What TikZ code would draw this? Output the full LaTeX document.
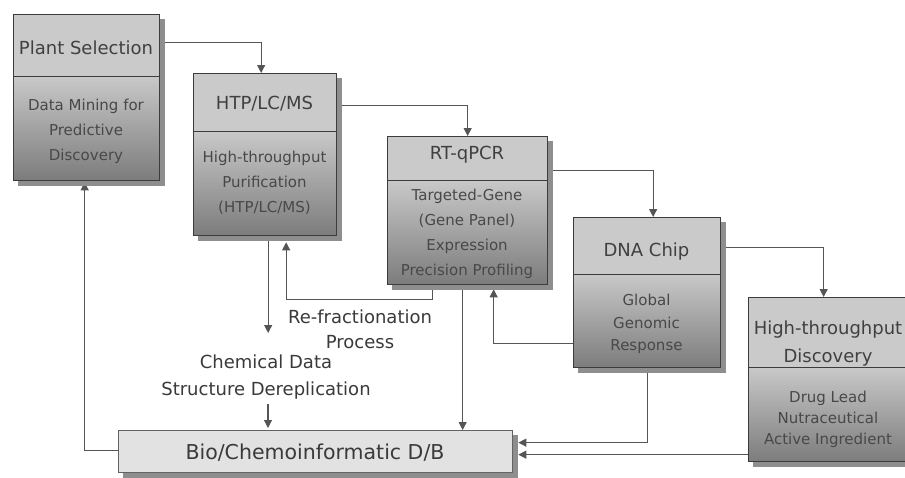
\documentclass[tikz,border=0pt]{standalone}
\usepackage{fontspec}
\setmainfont{DejaVu Sans}
\usetikzlibrary{arrows.meta}
\pgfdeclarelayer{bglayer}
\pgfdeclarelayer{connlayer}
\pgfdeclarelayer{shadowlayer}
\pgfsetlayers{bglayer,connlayer,shadowlayer,main}
\definecolor{bordc}{HTML}{3C3C3C}
\definecolor{titlec}{HTML}{CACACA}
\definecolor{bodytop}{HTML}{C8C8C8}
\definecolor{bodybot}{HTML}{7C7C7C}
\definecolor{shadowc}{HTML}{8E8E8E}
\definecolor{textc}{HTML}{404040}
\definecolor{bodytext}{HTML}{484848}
\definecolor{connc}{HTML}{555555}
\definecolor{labc}{HTML}{3A3A3A}
\definecolor{dbfill}{HTML}{E2E2E2}
\tikzset{
  partbox/.style={draw=bordc, line width=1.3pt, inner sep=0pt, anchor=north west},
  titlepart/.style={partbox, fill=titlec},
  bodypart/.style={partbox, top color=bodytop, bottom color=bodybot},
  titletext/.style={text=textc, font=\fontsize{18}{28}\selectfont, align=center, inner sep=0pt},
  bodytext/.style={text=bodytext, font=\fontsize{15}{25}\selectfont, align=center, inner sep=0pt},
  freelabel/.style={text=labc, font=\fontsize{18}{25}\selectfont, align=center, inner sep=0pt},
  conn/.style={draw=connc, line width=1.1pt, -{Triangle[width=8pt,length=8pt]}},
  plainline/.style={draw=connc, line width=1.1pt},
  shadowfill/.style={fill=shadowc},
}
\begin{document}
\begin{tikzpicture}[x=1pt,y=-1pt]
\useasboundingbox (0,0) rectangle (905,477);
\begin{pgfonlayer}{bglayer}
\fill[white] (0,0) rectangle (905,477);
\end{pgfonlayer}

% ---- Plant Selection
\node[titlepart, minimum width=146pt, minimum height=62pt] (plantT) at (13,14) {};
\node[bodypart, minimum width=146pt, minimum height=104pt] (plantB) at (13,76) {};
\node[titletext] (plantTt) at (86,48) {Plant Selection};
\node[bodytext] (plantBt) at (86,131) {Data Mining for\\Predictive\\Discovery};

% ---- HTP/LC/MS
\node[titlepart, minimum width=143pt, minimum height=58pt] (htpT) at (193,73) {};
\node[bodypart, minimum width=143pt, minimum height=104pt] (htpB) at (193,131) {};
\node[titletext] (htpTt) at (264.5,104) {HTP/LC/MS};
\node[bodytext] (htpBt) at (264.5,183) {High-throughput\\Purification\\(HTP/LC/MS)};

% ---- RT-qPCR
\node[titlepart, minimum width=160pt, minimum height=44pt] (rtT) at (387,136) {};
\node[bodypart, minimum width=160pt, minimum height=104pt] (rtB) at (387,180) {};
\node[titletext] (rtTt) at (467,155) {RT-qPCR};
\node[bodytext] (rtBt) at (467,234) {Targeted-Gene\\(Gene Panel)\\Expression\\Precision Profiling};

% ---- DNA Chip
\node[titlepart, minimum width=147pt, minimum height=57pt] (dnaT) at (573,217) {};
\node[bodypart, minimum width=147pt, minimum height=93pt] (dnaB) at (573,274) {};
\node[titletext] (dnaTt) at (646.5,252) {DNA Chip};
\node[bodytext, font=\fontsize{15}{22.5}\selectfont] (dnaBt) at (646.5,324) {Global\\Genomic\\Response};

% ---- High-throughput Discovery
\node[titlepart, minimum width=160pt, minimum height=70pt] (htdT) at (748,297) {};
\node[bodypart, minimum width=160pt, minimum height=94pt] (htdB) at (748,367) {};
\node[titletext] (htdTt) at (828,344) {High-throughput\\Discovery};
\node[bodytext, font=\fontsize{15}{21}\selectfont] (htdBt) at (828,419) {Drug Lead\\Nutraceutical\\Active Ingredient};

% ---- Database
\node[partbox, fill=dbfill, draw=bordc!80, minimum width=394pt, minimum height=42pt] (db) at (118,430) {};
\node[titletext, text=labc, font=\fontsize{20.5}{24}\selectfont] (dbt) at (315,453) {Bio/Chemoinformatic D/B};

% ---- free labels
\node[freelabel] (refr) at (360,329) {Re-fractionation\\Process};
\node[freelabel, font=\fontsize{18}{27}\selectfont] (chem) at (266,377) {Chemical Data\\Structure Dereplication};

% ---- shadows
\begin{pgfonlayer}{shadowlayer}
\foreach \t/\b in {plantT/plantB, htpT/htpB, rtT/rtB, dnaT/dnaB, htdT/htdB, db/db}{
  \fill[shadowfill] ([shift={(5pt,-5pt)}]\t.north west) rectangle ([shift={(5pt,-5pt)}]\b.south east);
}
\end{pgfonlayer}

% ---- connectors
\begin{pgfonlayer}{connlayer}
\coordinate (aEnd) at ([xshift=-4pt]htpT.north);
\draw[conn] ([yshift=3pt]plantT.east) -| (aEnd);
\draw[conn] ([yshift=-3pt]htpT.east) -| (rtT.north);
\coordinate (cEnd) at ([xshift=6pt]dnaT.north);
\draw[conn] ([yshift=-12pt]rtT.east) -| (cEnd);
\coordinate (dEnd) at ([xshift=-5pt]htdT.north);
\draw[conn] ([yshift=-1pt]dnaT.east) -| (dEnd);
% DB -> Plant Selection
\coordinate (eEnd) at ([xshift=-2pt,yshift=-1pt]plantB.south);
\draw[conn] ([yshift=1.5pt]db.west) -| (eEnd);
% HTP -> chemical data
\coordinate (fStart) at ([xshift=3pt]htpB.south);
\coordinate (fEnd) at (267,333);
\draw[conn] (fStart) -- (fStart |- fEnd);
% chemical data -> DB
\coordinate (gStart) at (268,404);
\coordinate (gEnd) at ([yshift=2pt]db.north);
\draw[conn] (gStart) -- (gStart |- gEnd);
% re-fractionation loop
\coordinate (rfA) at ([xshift=-35pt]rtB.south);
\coordinate (rfB) at ([xshift=21pt,yshift=-6pt]htpB.south);
\draw[conn] (rfA) -- ++(0,14) -| (rfB);
% RT -> DB
\coordinate (rtD) at ([xshift=-5pt]rtB.south);
\draw[conn] (rtD) -- (rtD |- db.north);
% DNA -> RT
\coordinate (dnaL) at ([yshift=-22pt]dnaB.west);
\coordinate (rtU) at ([xshift=26pt,yshift=-4pt]rtB.south);
\draw[conn] (dnaL) -| (rtU);
% DNA -> DB
\coordinate (dbR1) at ([xshift=5pt,yshift=9pt]db.east);
\draw[conn] (dnaB.south) |- (dbR1);
% HTD -> DB
\coordinate (dbR2) at ([xshift=5pt,yshift=-3pt]db.east);
\draw[conn] (htdB.west |- dbR2) -- (dbR2);
\end{pgfonlayer}
\end{tikzpicture}
\end{document}
